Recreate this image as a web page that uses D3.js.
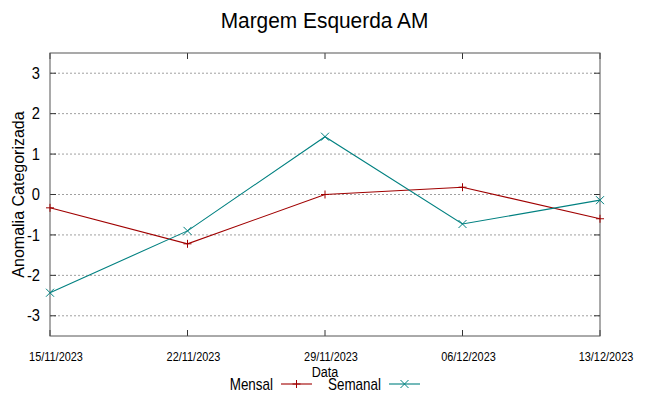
<!DOCTYPE html>
<html>
<head>
<meta charset="utf-8">
<script src="https://cdn.jsdelivr.net/npm/d3@7"></script>
<style>
  body { margin: 0; background: #fff; }
  text { font-family: "Liberation Sans", Arial, sans-serif; fill: #000; }
</style>
</head>
<body>
<div id="chart"></div>
<script>
const dates = ["15/11/2023", "22/11/2023", "29/11/2023", "06/12/2023", "13/12/2023"];
const mensal = [-0.33, -1.22, 0.0, 0.18, -0.6];
const semanal = [-2.43, -0.9, 1.43, -0.73, -0.14];
const yTicks = [-3, -2, -1, 0, 1, 2, 3];

const width = 649, height = 396;
const margin = { top: 53, right: 49, bottom: 60, left: 50 };
const plot_w = width - margin.left - margin.right;
const plot_h = height - margin.top - margin.bottom;
const squeeze = 0.84;

const svg = d3.select("#chart").append("svg")
    .attr("width", width)
    .attr("height", height);

const g = svg.append("g")
    .attr("transform", `translate(${margin.left},${margin.top})`);

const x = d3.scalePoint().domain(dates).range([0, plot_w]);
const y = d3.scaleLinear().domain([-3.5, 3.5]).range([plot_h, 0]);

// grid
g.selectAll(".grid")
    .data(yTicks)
    .join("line")
    .attr("x1", 0).attr("x2", plot_w)
    .attr("y1", d => y(d)).attr("y2", d => y(d))
    .attr("stroke", "#a0a0a0")
    .attr("stroke-width", 1)
    .attr("stroke-dasharray", "2,2");

// inner ticks left/right
g.selectAll(".ytick")
    .data(yTicks)
    .join("g")
    .each(function (d) {
        const t = d3.select(this);
        t.append("line").attr("x1", 0).attr("x2", 6).attr("y1", y(d)).attr("y2", y(d)).attr("stroke", "#333");
        t.append("line").attr("x1", plot_w - 6).attr("x2", plot_w).attr("y1", y(d)).attr("y2", y(d)).attr("stroke", "#333");
    });

g.selectAll(".xtick")
    .data(dates)
    .join("g")
    .each(function (d) {
        const t = d3.select(this);
        t.append("line").attr("x1", x(d)).attr("x2", x(d)).attr("y1", plot_h).attr("y2", plot_h - 6).attr("stroke", "#333");
        t.append("line").attr("x1", x(d)).attr("x2", x(d)).attr("y1", 0).attr("y2", 6).attr("stroke", "#333");
    });

// frame
g.append("rect")
    .attr("width", plot_w).attr("height", plot_h)
    .attr("fill", "none").attr("stroke", "#555").attr("stroke-width", 1);

// y tick labels
g.selectAll(".ylab")
    .data(yTicks)
    .join("text")
    .attr("transform", d => `translate(-10,${y(d)}) scale(0.92,1)`)
    .attr("dy", "0.35em")
    .attr("text-anchor", "end")
    .style("font-size", "16px")
    .text(d => d);

// x tick labels (condensed like the original)
g.selectAll(".xlab")
    .data(dates)
    .join("text")
    .attr("transform", d => `translate(${x(d) + 6},${plot_h + 25}) scale(${squeeze},1)`)
    .attr("text-anchor", "middle")
    .style("font-size", "13px")
    .text(d => d);

const line = d3.line()
    .x((d, i) => x(dates[i]))
    .y(d => y(d));

const series = [
    { name: "Mensal", values: mensal, color: "#a00000", marker: "plus" },
    { name: "Semanal", values: semanal, color: "#008080", marker: "cross" }
];

function drawMarker(sel, type, color, cx, cy) {
    const s = 4;
    if (type === "plus") {
        sel.append("path").attr("d", `M${cx - s},${cy}H${cx + s}M${cx},${cy - s}V${cy + s}`)
            .attr("stroke", color).attr("fill", "none");
    } else {
        sel.append("path").attr("d", `M${cx - s},${cy - s}L${cx + s},${cy + s}M${cx - s},${cy + s}L${cx + s},${cy - s}`)
            .attr("stroke", color).attr("fill", "none");
    }
}

series.forEach(s => {
    g.append("path")
        .datum(s.values)
        .attr("d", line)
        .attr("fill", "none")
        .attr("stroke", s.color)
        .attr("stroke-width", 1.1);
    const mg = g.append("g");
    s.values.forEach((v, i) => drawMarker(mg, s.marker, s.color, x(dates[i]), y(v)));
});

// title
svg.append("text")
    .attr("transform", `translate(${width / 2},28) scale(0.95,1)`)
    .attr("text-anchor", "middle")
    .style("font-size", "22px")
    .text("Margem Esquerda AM");

// axis labels
svg.append("text")
    .attr("transform", `translate(24,${margin.top + plot_h / 2}) rotate(-90)`)
    .attr("text-anchor", "middle")
    .style("font-size", "16px")
    .text("Anomalia Categorizada");

svg.append("text")
    .attr("transform", `translate(${margin.left + plot_w / 2},377) scale(${squeeze},1)`)
    .attr("text-anchor", "middle")
    .style("font-size", "15px")
    .text("Data");

// legend
const legendX = [273, 381];
series.forEach((s, i) => {
    const lg = svg.append("g").attr("transform", `translate(${legendX[i]},384)`);
    lg.append("text")
        .attr("transform", `scale(${squeeze},1)`)
        .attr("dy", "0.35em")
        .attr("text-anchor", "end")
        .style("font-size", "16px")
        .text(s.name);
    lg.append("line").attr("x1", 8).attr("x2", 39).attr("y1", 0).attr("y2", 0)
        .attr("stroke", s.color).attr("stroke-width", 1.1);
    drawMarker(lg, s.marker, s.color, 23.5, 0);
});
</script>
</body>
</html>
